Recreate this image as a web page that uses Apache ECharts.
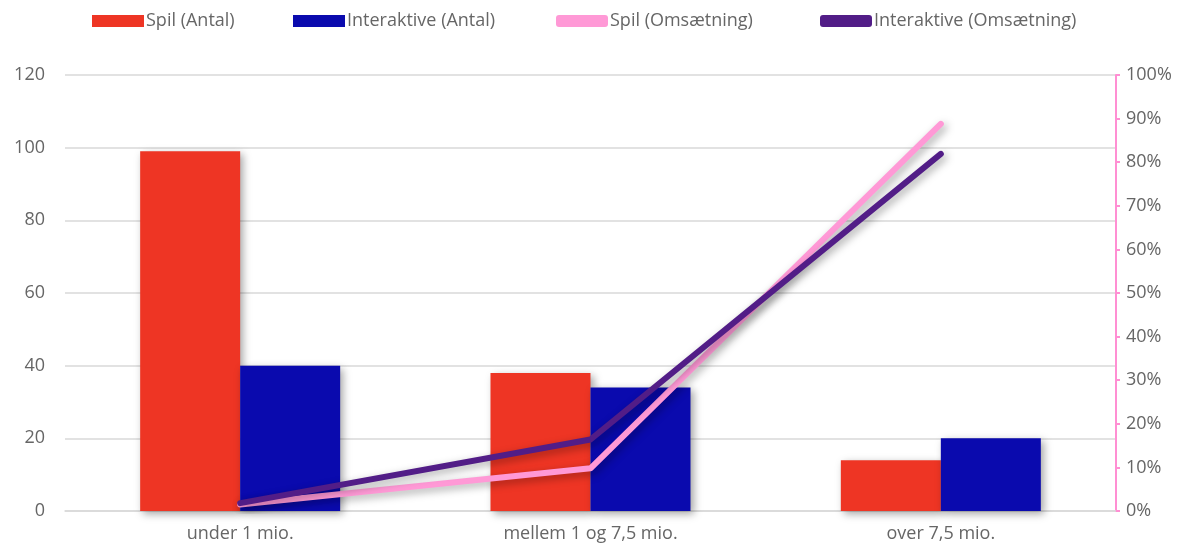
<!DOCTYPE html>
<html>
<head>
<meta charset="utf-8">
<script src="https://cdn.jsdelivr.net/npm/echarts@6/dist/echarts.min.js"></script>
<style>html,body{margin:0;padding:0;background:#fff}#c{width:1199px;height:548px}</style>
</head>
<body>
<div id="c"></div>
<script>
const categories = ['under 1 mio.', 'mellem 1 og 7,5 mio.', 'over 7,5 mio.'];
const spilAntal = [99, 38, 14];
const interaktiveAntal = [40, 34, 20];
const spilOmsaetning = [1.5, 9.8, 88.8];
const interaktiveOmsaetning = [1.8, 16.4, 81.9];
const seriesNames = ['Spil (Antal)', 'Interaktive (Antal)', 'Spil (Omsætning)', 'Interaktive (Omsætning)'];

const FONT = 'Open Sans';
const TXT = '#666666';
const chart = echarts.init(document.getElementById('c'));
const shadow = {shadowColor: 'rgba(0,0,0,0.35)', shadowBlur: 8, shadowOffsetX: 3, shadowOffsetY: 3};
const legendLefts = [92, 293, 556, 820];
const icons = ['rect', 'rect', 'roundRect', 'roundRect'];
const legends = seriesNames.map((n, i) => ({
  top: 12, left: legendLefts[i], padding: 0,
  itemWidth: 52, itemHeight: 12,
  textStyle: {color: TXT, fontSize: 18, fontFamily: FONT, padding: [0, 0, 0, -3]},
  data: [{name: n, icon: icons[i]}]
}));
chart.setOption({
  animation: false,
  textStyle: {fontFamily: FONT},
  legend: legends,
  grid: {left: 65, right: 83, top: 75, bottom: 37},
  xAxis: {
    type: 'category', data: categories,
    axisLine: {lineStyle: {color: '#d9d9d9', width: 1.5}},
    axisTick: {show: false},
    axisLabel: {color: TXT, fontSize: 18, fontFamily: FONT, margin: 14}
  },
  yAxis: [
    {
      type: 'value', min: 0, max: 120, interval: 20,
      axisLine: {show: false}, axisTick: {show: false},
      splitLine: {lineStyle: {color: '#d9d9d9', width: 1.5}},
      axisLabel: {color: TXT, fontSize: 18, fontFamily: FONT, margin: 20}
    },
    {
      type: 'value', min: 0, max: 100, interval: 10, position: 'right',
      axisLine: {show: true, lineStyle: {color: '#FF8FD3', width: 2}},
      axisTick: {show: true, length: 4, lineStyle: {color: '#FF8FD3', width: 2}},
      splitLine: {show: false},
      axisLabel: {color: TXT, fontSize: 18, fontFamily: FONT, margin: 10, formatter: '{value}%'}
    }
  ],
  series: [
    {name: seriesNames[0], type: 'bar', data: spilAntal, barWidth: 100, barGap: '0%',
     itemStyle: Object.assign({color: '#EE3524'}, shadow)},
    {name: seriesNames[1], type: 'bar', data: interaktiveAntal, barWidth: 100, barGap: '0%',
     itemStyle: Object.assign({color: '#0A0AAE'}, shadow)},
    {name: seriesNames[2], type: 'line', yAxisIndex: 1, data: spilOmsaetning, symbol: 'none',
     lineStyle: Object.assign({color: '#FF99D6', width: 6, cap: 'round', join: 'round'}, shadow),
     itemStyle: {color: '#FF99D6'}},
    {name: seriesNames[3], type: 'line', yAxisIndex: 1, data: interaktiveOmsaetning, symbol: 'none',
     lineStyle: Object.assign({color: '#521D87', width: 6, cap: 'round', join: 'round'}, shadow),
     itemStyle: {color: '#521D87'}}
  ]
});
</script>
</body>
</html>
